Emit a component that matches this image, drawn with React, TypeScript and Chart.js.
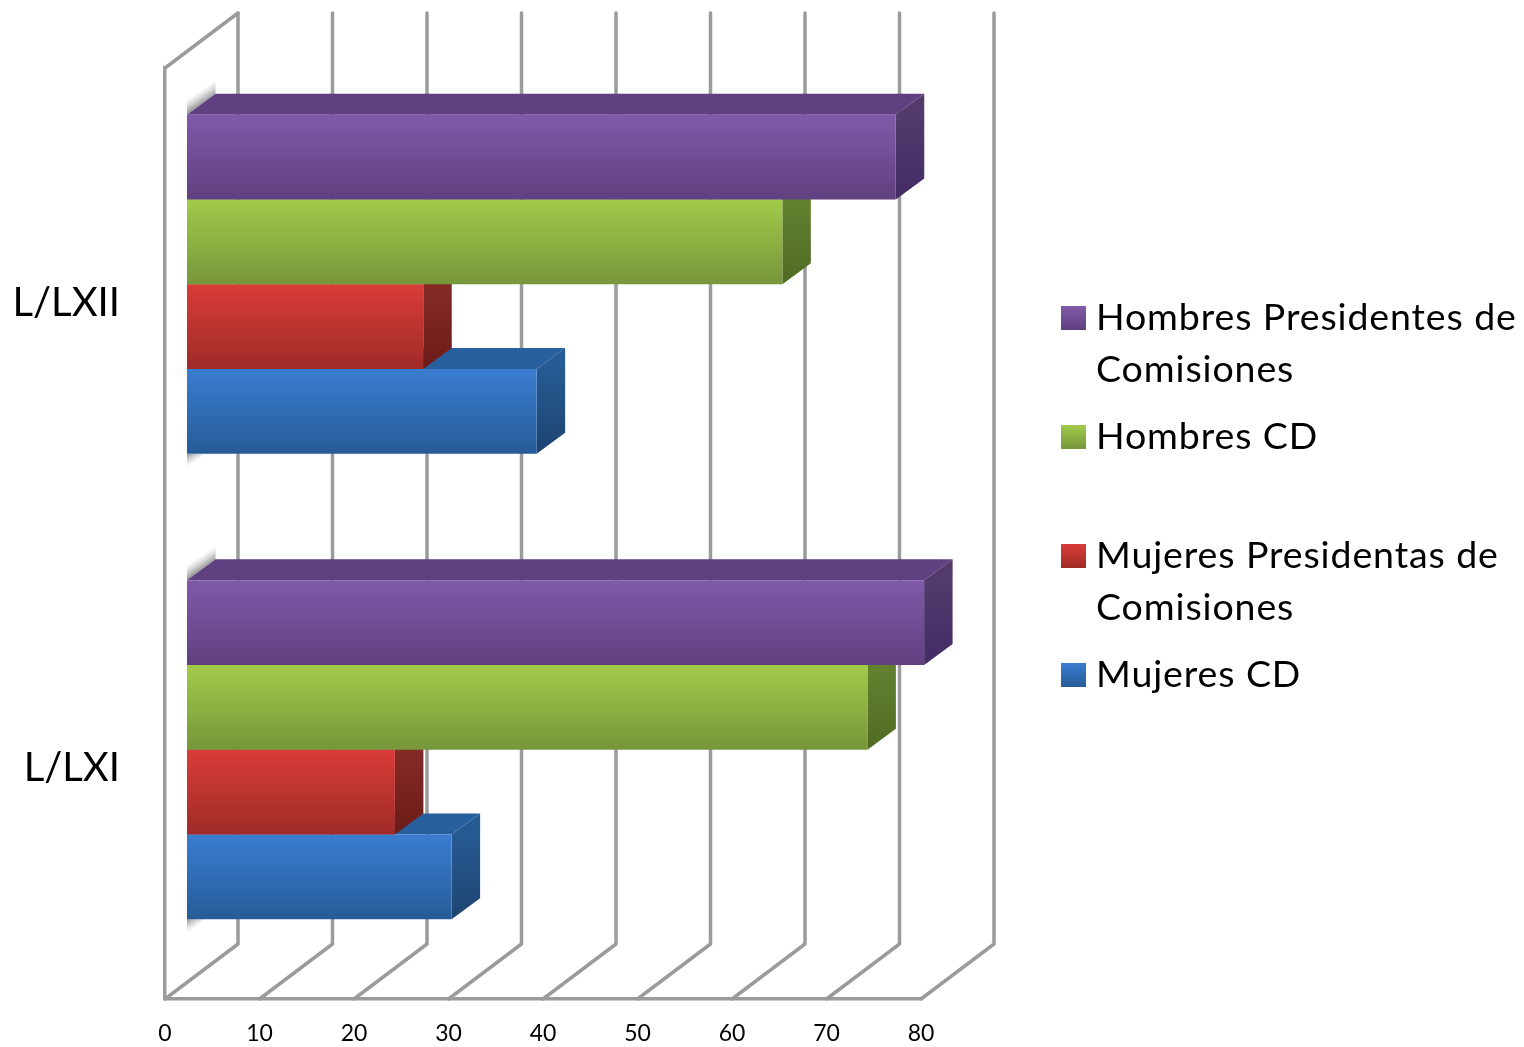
import React, { useEffect, useRef } from "react";
import { Chart, registerables } from "chart.js";

Chart.register(...registerables);

const categories = ["L/LXII", "L/LXI"];
const seriesNames = [
  "Hombres Presidentes de Comisiones",
  "Hombres CD",
  "Mujeres Presidentas de Comisiones",
  "Mujeres CD",
];
const hombresPresidentes = [75, 78];
const hombresCD = [63, 72];
const mujeresPresidentas = [25, 22];
const mujeresCD = [37, 28];
const seriesValues = [hombresPresidentes, hombresCD, mujeresPresidentas, mujeresCD];
const legendLines = [
  ["Hombres Presidentes de", "Comisiones"],
  ["Hombres CD"],
  ["Mujeres Presidentas de", "Comisiones"],
  ["Mujeres CD"],
];
const axisTicks = [0, 10, 20, 30, 40, 50, 60, 70, 80];

const FONT = "Lato";
const WALL = "#9b9b9b";
const WALL_DX = 73;
const WALL_DY = -55;
const BAR_DX = 22;
const BAR_DY = -16.5;
const DEPTH_X = 28.5;
const DEPTH_Y = -21;
const GROUP = 0.728;

const palette = [
  { front: ["#7f5aa9", "#60407f"], top: "#5f4181", side: ["#523a6c", "#432b66"] },
  { front: ["#a2cb4a", "#76963a"], top: "#7d9f3c", side: ["#638231", "#4f6b22"] },
  { front: ["#d93c38", "#9f2b27"], top: "#a32d29", side: ["#852b27", "#6c1b18"] },
  { front: ["#3a7dd0", "#265b98"], top: "#275f9f", side: ["#255a92", "#1d4470"] },
];

function vGrad(ctx: CanvasRenderingContext2D, y0: number, y1: number, c: string[]) {
  const g = ctx.createLinearGradient(0, y0, 0, y1);
  g.addColorStop(0, c[0]);
  g.addColorStop(1, c[1]);
  return g;
}

function poly(ctx: CanvasRenderingContext2D, pts: number[][], fill: any) {
  ctx.beginPath();
  pts.forEach((p, i) => (i ? ctx.lineTo(p[0], p[1]) : ctx.moveTo(p[0], p[1])));
  ctx.closePath();
  ctx.fillStyle = fill;
  ctx.fill();
}

const walls3d = {
  id: "walls3d",
  beforeDraw(chart: any) {
    // Nudge the category labels to sit where the reference has them
    chart.scales.y.getLabelItems(chart.chartArea).forEach((item: any) => {
      item.options.translation = [item.options.translation[0], item.options.translation[1] + 2];
    });
  },
  beforeDatasetsDraw(chart: any) {
    const { ctx, chartArea, scales } = chart;
    const { top, bottom, left } = chartArea;
    ctx.save();
    ctx.strokeStyle = WALL;
    ctx.lineWidth = 3.5;
    ctx.lineJoin = "round";
    ctx.lineCap = "round";
    axisTicks.forEach((v) => {
      const px = scales.x.getPixelForValue(v);
      ctx.beginPath();
      ctx.moveTo(px, bottom);
      ctx.lineTo(px + WALL_DX, bottom + WALL_DY);
      ctx.lineTo(px + WALL_DX, top + WALL_DY);
      ctx.stroke();
    });
    ctx.beginPath();
    ctx.moveTo(left, top);
    ctx.lineTo(left + WALL_DX, top + WALL_DY);
    ctx.stroke();

    // Soft shadow that the bars cast on the side wall
    const first = chart.getDatasetMeta(0).data;
    const last = chart.getDatasetMeta(seriesValues.length - 1).data;
    first.forEach((el: any, i: number) => {
      const x0 = el.base + BAR_DX;
      const yTop = el.y - el.height / 2 + BAR_DY;
      const g = ctx.createLinearGradient(x0 + 10, yTop - 5, x0 + 2, yTop - 17);
      g.addColorStop(0, "rgba(110,110,110,0.9)");
      g.addColorStop(1, "rgba(170,170,170,0)");
      poly(
        ctx,
        [
          [x0, yTop],
          [x0 + DEPTH_X, yTop + DEPTH_Y],
          [x0 + DEPTH_X, yTop + DEPTH_Y - 15],
          [x0, yTop - 15],
        ],
        g,
      );
      const bar = last[i];
      const yBot = bar.y + bar.height / 2 + BAR_DY;
      const g2 = ctx.createLinearGradient(x0, yBot, x0 + 6, yBot + 10);
      g2.addColorStop(0, "rgba(120,120,120,0.8)");
      g2.addColorStop(1, "rgba(170,170,170,0)");
      poly(
        ctx,
        [
          [x0, yBot],
          [x0 + 18, yBot],
          [x0, yBot + 14],
        ],
        g2,
      );
    });
    ctx.restore();
  },
  beforeDatasetDraw(chart: any, args: any) {
    const { ctx } = chart;
    const colors = palette[args.index];
    ctx.save();
    ctx.translate(BAR_DX, BAR_DY);
    args.meta.data.forEach((el: any) => {
      const t = el.y - el.height / 2;
      const b = el.y + el.height / 2;
      poly(
        ctx,
        [
          [el.base, t],
          [el.x, t],
          [el.x + DEPTH_X, t + DEPTH_Y],
          [el.base + DEPTH_X, t + DEPTH_Y],
        ],
        colors.top,
      );
      poly(
        ctx,
        [
          [el.x, t],
          [el.x + DEPTH_X, t + DEPTH_Y],
          [el.x + DEPTH_X, b + DEPTH_Y],
          [el.x, b],
        ],
        vGrad(ctx, t, b, colors.side),
      );
    });
  },
  afterDatasetDraw(chart: any) {
    chart.ctx.restore();
  },
  afterDraw(chart: any) {
    const { ctx } = chart;
    ctx.save();
    ctx.font = `37.5px ${FONT}`;
    ctx.textBaseline = "middle";
    ctx.textAlign = "left";
    (ctx as any).letterSpacing = "0.9px";
    legendLines.forEach((lines, i) => {
      const cy = 318 + i * 119;
      ctx.fillStyle = vGrad(ctx, cy - 12, cy + 12, palette[i].front);
      ctx.fillRect(1061, cy - 12, 25, 24);
      ctx.fillStyle = "#000000";
      lines.forEach((line, j) => ctx.fillText(line, 1096, cy + j * 52));
    });
    ctx.restore();
  },
};

export default function App() {
  const ref = useRef<HTMLCanvasElement>(null);
  useEffect(() => {
    const chart = new Chart(ref.current as HTMLCanvasElement, {
      type: "bar",
      data: {
        labels: categories,
        datasets: seriesValues.map((values, i) => ({
          label: seriesNames[i],
          data: values,
          clip: false,
          borderWidth: 0,
          categoryPercentage: GROUP,
          barPercentage: 1,
          backgroundColor: (c: any) => {
            const y = c.chart.scales.y;
            if (!y || c.dataIndex === undefined) return palette[i].front[0];
            const center = y.getPixelForValue(c.dataIndex);
            const h = ((y.bottom - y.top) / categories.length) * GROUP / seriesValues.length;
            const t = center - 2 * h + i * h;
            if (!Number.isFinite(t) || !Number.isFinite(h) || h <= 0) return palette[i].front[0];
            return vGrad(c.chart.ctx, t, t + h, palette[i].front);
          },
        })),
      } as any,
      options: {
        indexAxis: "y",
        responsive: false,
        animation: false,
        devicePixelRatio: 1,
        layout: { padding: { top: 68, right: 603, bottom: 0, left: 0 } },
        plugins: { legend: { display: false }, tooltip: { enabled: false } },
        scales: {
          x: {
            type: "linear",
            min: 0,
            max: 80,
            afterBuildTicks: (s: any) => {
              s.ticks = axisTicks.map((value) => ({ value }));
            },
            afterFit: (s: any) => {
              s.height = 48;
              s.paddingLeft = 0;
              s.paddingRight = 0;
            },
            grid: { display: false, drawTicks: false },
            border: { display: true, color: WALL, width: 3.5 },
            ticks: {
              color: "#000000",
              padding: 21,
              maxRotation: 0,
              font: { family: FONT, size: 23 },
            },
          },
          y: {
            type: "category",
            afterFit: (s: any) => {
              s.width = 165;
              s.paddingTop = 0;
              s.paddingBottom = 0;
            },
            grid: { display: false, drawTicks: false },
            border: { display: true, color: WALL, width: 3.5 },
            ticks: {
              color: "#000000",
              padding: 45,
              font: { family: FONT, size: 40 },
            },
          },
        },
      } as any,
      plugins: [walls3d],
    });
    return () => chart.destroy();
  }, []);
  return (
    <canvas
      ref={ref}
      width={1524}
      height={1047}
      style={{ position: "fixed", left: 0, top: 0, display: "block", background: "#ffffff" }}
    />
  );
}
